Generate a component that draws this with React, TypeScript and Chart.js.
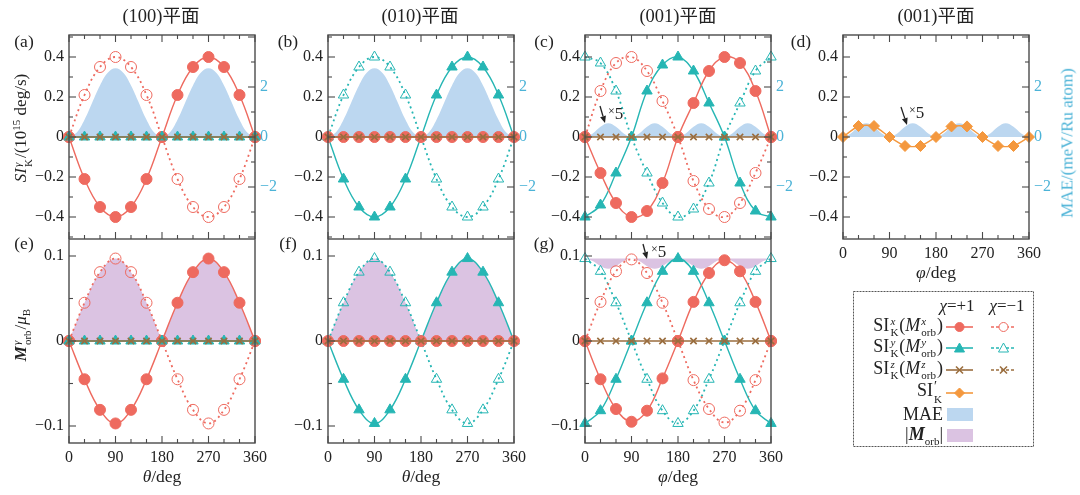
import React, { useEffect, useRef } from 'react';
import { Chart, registerables } from 'chart.js';

Chart.register(...registerables);

// angle grids (deg)
const angles = [0, 30, 60, 90, 120, 150, 180, 210, 240, 270, 300, 330, 360];
const anglesFine = [0, 15, 30, 45, 60, 75, 90, 105, 120, 135, 150, 165, 180, 195, 210, 225, 240, 255, 270, 285, 300, 315, 330, 345, 360];
const anglesFirstHalf = [0, 30, 60, 90, 120, 150, 180];
const anglesSecondHalf = [180, 210, 240, 270, 300, 330, 360];
const angleTicks = [0, 90, 180, 270, 360];

// axis ticks
const siTicks = [-0.4, -0.2, 0, 0.2, 0.4];
const siMinor = [-0.5, -0.4, -0.3, -0.2, -0.1, 0, 0.1, 0.2, 0.3, 0.4, 0.5];
const maeTicks = [-2, 0, 2];
const maeMinor = [-4, -3, -2, -1, 0, 1, 2, 3, 4];
const mTicks = [-0.1, 0, 0.1];
const mMinor = [-0.1, -0.05, 0, 0.05, 0.1];

// (a), (b): SI_K (10^15 deg/s)
const siPlusAB = [0, -0.21, -0.35, -0.4, -0.35, -0.21, 0, 0.21, 0.35, 0.4, 0.35, 0.21, 0];
const siMinusAB = [0, 0.21, 0.35, 0.4, 0.35, 0.21, 0, -0.21, -0.35, -0.4, -0.35, -0.21, 0];
const zeroSeries = [0, 0, 0, 0, 0, 0, 0, 0, 0, 0, 0, 0, 0];
const maeAB = [0, 0.18, 0.69, 1.38, 2.06, 2.57, 2.75, 2.57, 2.06, 1.38, 0.69, 0.18, 0, 0.18, 0.69, 1.38, 2.06, 2.57, 2.75, 2.57, 2.06, 1.38, 0.69, 0.18, 0];

// (c)
const siXPlusC = [0, -0.18, -0.33, -0.4, -0.37, -0.23, 0, 0.17, 0.33, 0.4, 0.37, 0.23, 0];
const siXMinusC = [0, 0.23, 0.37, 0.4, 0.33, 0.18, 0, -0.22, -0.36, -0.4, -0.33, -0.18, 0];
const siYPlusC = [-0.4, -0.34, -0.18, 0, 0.23, 0.36, 0.4, 0.33, 0.17, 0, -0.23, -0.37, -0.4];
const siYMinusC = [0.4, 0.37, 0.23, 0, -0.18, -0.33, -0.4, -0.36, -0.23, 0, 0.17, 0.33, 0.4];
const maeCD = [0, 0.14, 0.41, 0.55, 0.41, 0.14, 0, 0.14, 0.41, 0.55, 0.41, 0.14, 0, 0.14, 0.41, 0.55, 0.41, 0.14, 0, 0.14, 0.41, 0.55, 0.41, 0.14, 0];

// (d)
const siPrimeD = [0, 0.055, 0.055, 0, -0.045, -0.045, 0, 0.053, 0.053, 0, -0.045, -0.045, 0];

// (e), (f): M_orb (mu_B)
const mPlusEF = [0, -0.045, -0.081, -0.097, -0.081, -0.045, 0, 0.045, 0.081, 0.097, 0.081, 0.045, 0];
const mMinusEF = [0, 0.045, 0.081, 0.097, 0.081, 0.045, 0, -0.045, -0.081, -0.097, -0.081, -0.045, 0];
const mAbsHalfEF = [0, 0.045, 0.081, 0.097, 0.081, 0.045, 0];

// (g)
const mXPlusG = [0, -0.045, -0.08, -0.095, -0.082, -0.044, 0, 0.046, 0.08, 0.095, 0.082, 0.046, 0];
const mXMinusG = [0, 0.046, 0.082, 0.096, 0.08, 0.045, 0, -0.046, -0.08, -0.096, -0.082, -0.046, 0];
const mYPlusG = [-0.097, -0.082, -0.045, 0, 0.045, 0.082, 0.097, 0.082, 0.045, 0, -0.045, -0.082, -0.097];
const mYMinusG = [0.097, 0.082, 0.045, 0, -0.045, -0.082, -0.097, -0.082, -0.045, 0, 0.045, 0.082, 0.097];
const mAbsG = [0.097, 0.094, 0.088, 0.085, 0.088, 0.094, 0.097, 0.094, 0.088, 0.085, 0.088, 0.094, 0.097, 0.094, 0.088, 0.085, 0.088, 0.094, 0.097, 0.094, 0.088, 0.085, 0.088, 0.094, 0.097];

const red = '#ee6a5f';
const cyan = '#26b6b4';
const brown = '#9a6d3e';
const orange = '#f4983e';
const maeBlue = '#bcd7f0';
const orbPurple = '#dbc3e2';
const axisBlue = '#4cb3d7';
const ink = '#222';
const serif = "'Liberation Serif', 'Noto Sans CJK SC', serif";

const colLeft = [69, 328, 585, 843];
const rowTop = [35, 239];
const PW = 186;
const PH = 204;
const ML = 60;
const MR = 36;

const pts = (xs: number[], ys: number[]) => xs.map((x, i) => ({ x, y: ys[i] }));

function markerLine(data: any[], color: string, shape: string, filled: boolean, order: number, tension = 0.4) {
  const isCross = shape === 'crossRot';
  return {
    data,
    borderColor: color,
    backgroundColor: filled ? color : 'rgba(255,255,255,0)',
    borderWidth: filled ? 1.4 : 1.8,
    borderDash: filled ? [] : [2, 3.5],
    pointStyle: shape,
    pointRadius: isCross ? 4.5 : shape === 'triangle' ? 6 : 5.5,
    pointBorderWidth: isCross ? 1.6 : 1,
    tension,
    fill: false,
    clip: false,
    order,
  };
}

function area(data: any[], color: string, fill: any = 'origin', yAxisID = 'y') {
  return {
    data,
    borderWidth: 0,
    borderColor: 'rgba(0,0,0,0)',
    backgroundColor: color,
    pointRadius: 0,
    fill,
    tension: 0.4,
    yAxisID,
    clip: false,
    order: 10,
  };
}

const fmt = (v: number) => (v < 0 ? '\u2212' + String(-v) : String(v));

const frameTicks = {
  id: 'frameTicks',
  afterDatasetsDraw(chart: any, _args: any, opts: any) {
    const { ctx, chartArea: a, scales } = chart;
    const seg = (x1: number, y1: number, x2: number, y2: number) => {
      ctx.beginPath();
      ctx.moveTo(x1, y1);
      ctx.lineTo(x2, y2);
      ctx.stroke();
    };
    ctx.save();
    ctx.strokeStyle = '#4a4a4a';
    ctx.lineWidth = 1.4;
    ctx.strokeRect(a.left, a.top, a.right - a.left, a.bottom - a.top);
    ctx.lineWidth = 1.1;
    angles.forEach((v) => {
      const px = scales.x.getPixelForValue(v);
      const len = v % 90 === 0 ? 7 : 4;
      seg(px, a.bottom, px, a.bottom - len);
      if (opts.top) seg(px, a.top, px, a.top + len);
    });
    opts.yMinor.forEach((v: number) => {
      const py = scales.y.getPixelForValue(v);
      const len = opts.yMajor.includes(v) ? 7 : 4;
      seg(a.left, py, a.left + len, py);
    });
    if (scales.y2) {
      maeMinor.forEach((v) => {
        const py = scales.y2.getPixelForValue(v);
        const len = v % 2 === 0 ? 7 : 4;
        seg(a.right, py, a.right - len, py);
      });
    }
    ctx.restore();
  },
};

interface PanelSpec {
  col: number;
  row: number;
  xLabels: boolean;
  yMax: number;
  yTicks: number[];
  yMinor: number[];
  y2: boolean;
  datasets: any[];
}

const tickFont = { family: serif, size: 16 };

function Panel({ spec }: { spec: PanelSpec }) {
  const canvasRef = useRef<HTMLCanvasElement>(null);
  const mt = spec.row === 0 ? 10 : 0;
  const mb = spec.xLabels ? 32 : 0;

  useEffect(() => {
    if (!canvasRef.current) return;
    const zeroPad = (s: any) => {
      s.paddingLeft = 0;
      s.paddingRight = 0;
      s.paddingTop = 0;
      s.paddingBottom = 0;
    };
    const noGrid = { display: false, drawTicks: false, tickLength: 0 };
    const scales: any = {
      x: {
        type: 'linear',
        min: 0,
        max: 360,
        grid: noGrid,
        border: { display: false },
        ticks: { display: spec.xLabels, font: tickFont, color: ink, padding: 5, maxRotation: 0, autoSkip: false },
        afterBuildTicks: (s: any) => { s.ticks = angleTicks.map((v) => ({ value: v })); },
        afterFit: (s: any) => { s.height = mb; zeroPad(s); },
      },
      y: {
        type: 'linear',
        position: 'left',
        min: -spec.yMax,
        max: spec.yMax,
        grid: noGrid,
        border: { display: false },
        ticks: { font: tickFont, color: ink, padding: 5, callback: (v: any) => fmt(Number(v)) },
        afterBuildTicks: (s: any) => { s.ticks = spec.yTicks.map((v) => ({ value: v })); },
        afterFit: (s: any) => { s.width = ML; zeroPad(s); },
      },
    };
    if (spec.y2) {
      scales.y2 = {
        type: 'linear',
        position: 'right',
        min: -4.08,
        max: 4.08,
        grid: noGrid,
        border: { display: false },
        ticks: { font: tickFont, color: axisBlue, padding: 5, callback: (v: any) => fmt(Number(v)) },
        afterBuildTicks: (s: any) => { s.ticks = maeTicks.map((v) => ({ value: v })); },
        afterFit: (s: any) => { s.width = MR; zeroPad(s); },
      };
    }
    const chart = new Chart(canvasRef.current, {
      type: 'line',
      data: { datasets: spec.datasets },
      options: {
        responsive: true,
        maintainAspectRatio: false,
        animation: false,
        events: [],
        layout: { autoPadding: false, padding: { top: mt, right: spec.y2 ? 0 : MR, left: 0, bottom: 0 } },
        plugins: {
          legend: { display: false },
          tooltip: { enabled: false },
          frameTicks: { top: spec.row === 0, yMinor: spec.yMinor, yMajor: spec.yTicks },
        } as any,
        scales,
      },
      plugins: [frameTicks],
    });
    return () => chart.destroy();
  }, [spec]);

  return (
    <div
      style={{
        position: 'absolute',
        left: colLeft[spec.col] - ML,
        top: rowTop[spec.row] - mt,
        width: ML + PW + MR,
        height: mt + PH + mb,
      }}
    >
      <canvas ref={canvasRef} />
    </div>
  );
}

const topBase = { row: 0, yMax: 0.51, yTicks: siTicks, yMinor: siMinor, y2: true };
const botBase = { row: 1, xLabels: true, yMax: 0.12, yTicks: mTicks, yMinor: mMinor, y2: false };

const specs: PanelSpec[] = [
  {
    ...topBase, col: 0, xLabels: false,
    datasets: [
      markerLine(pts(angles, zeroSeries), brown, 'crossRot', true, 0),
      markerLine(pts(angles, zeroSeries), cyan, 'triangle', true, 1),
      markerLine(pts(angles, siPlusAB), red, 'circle', true, 2),
      markerLine(pts(angles, siMinusAB), red, 'circle', false, 3),
      area(pts(anglesFine, maeAB), maeBlue, 'origin', 'y2'),
    ],
  },
  {
    ...topBase, col: 1, xLabels: false,
    datasets: [
      markerLine(pts(angles, zeroSeries), brown, 'crossRot', true, 0),
      markerLine(pts(angles, zeroSeries), red, 'circle', true, 1),
      markerLine(pts(angles, siPlusAB), cyan, 'triangle', true, 2),
      markerLine(pts(angles, siMinusAB), cyan, 'triangle', false, 3),
      area(pts(anglesFine, maeAB), maeBlue, 'origin', 'y2'),
    ],
  },
  {
    ...topBase, col: 2, xLabels: false,
    datasets: [
      markerLine(pts(angles, zeroSeries), brown, 'crossRot', true, 0),
      markerLine(pts(angles, siXPlusC), red, 'circle', true, 2),
      markerLine(pts(angles, siYPlusC), cyan, 'triangle', true, 2),
      markerLine(pts(angles, siXMinusC), red, 'circle', false, 3),
      markerLine(pts(angles, siYMinusC), cyan, 'triangle', false, 3),
      area(pts(anglesFine, maeCD), maeBlue, 'origin', 'y2'),
    ],
  },
  {
    ...topBase, col: 3, xLabels: true,
    datasets: [
      markerLine(pts(angles, siPrimeD), orange, 'rectRot', true, 1, 0.2),
      area(pts(anglesFine, maeCD), maeBlue, 'origin', 'y2'),
    ],
  },
  {
    ...botBase, col: 0,
    datasets: [
      markerLine(pts(angles, zeroSeries), brown, 'crossRot', true, 0),
      markerLine(pts(angles, zeroSeries), cyan, 'triangle', true, 1),
      markerLine(pts(angles, mPlusEF), red, 'circle', true, 2),
      markerLine(pts(angles, mMinusEF), red, 'circle', false, 3),
      area(pts(anglesFirstHalf, mAbsHalfEF), orbPurple),
      area(pts(anglesSecondHalf, mAbsHalfEF), orbPurple),
    ],
  },
  {
    ...botBase, col: 1,
    datasets: [
      markerLine(pts(angles, zeroSeries), brown, 'crossRot', true, 0),
      markerLine(pts(angles, zeroSeries), red, 'circle', true, 1),
      markerLine(pts(angles, mPlusEF), cyan, 'triangle', true, 2),
      markerLine(pts(angles, mMinusEF), cyan, 'triangle', false, 3),
      area(pts(anglesFirstHalf, mAbsHalfEF), orbPurple),
      area(pts(anglesSecondHalf, mAbsHalfEF), orbPurple),
    ],
  },
  {
    ...botBase, col: 2,
    datasets: [
      markerLine(pts(angles, zeroSeries), brown, 'crossRot', true, 0),
      markerLine(pts(angles, mXPlusG), red, 'circle', true, 2),
      markerLine(pts(angles, mYPlusG), cyan, 'triangle', true, 2),
      markerLine(pts(angles, mXMinusG), red, 'circle', false, 3),
      markerLine(pts(angles, mYMinusG), cyan, 'triangle', false, 3),
      area(pts(anglesFine, mAbsG), orbPurple, { value: 0.097 }),
    ],
  },
];

const Stack = ({ sup, sub, size = 11 }: { sup: React.ReactNode; sub: React.ReactNode; size?: number }) => (
  <span
    style={{
      display: 'inline-flex',
      flexDirection: 'column',
      verticalAlign: 'middle',
      lineHeight: 1,
      fontSize: size,
      margin: '0 1px',
    }}
  >
    <span>{sup}</span>
    <span>{sub}</span>
  </span>
);

const Txt = ({ x, y, children, size = 16, color = ink, rotate = false, align = 'center' }: any) => (
  <div
    style={{
      position: 'absolute',
      left: x,
      top: y,
      transform: `translate(${align === 'right' ? '-100%' : align === 'left' ? '0' : '-50%'}, -50%)${rotate ? ' rotate(-90deg)' : ''}`,
      fontSize: size,
      color,
      whiteSpace: 'nowrap',
      lineHeight: 1,
      fontFamily: serif,
    }}
  >
    {children}
  </div>
);

function Arrow({ x1, y1, x2, y2 }: { x1: number; y1: number; x2: number; y2: number }) {
  const dx = x2 - x1;
  const dy = y2 - y1;
  const l = Math.hypot(dx, dy);
  const ux = dx / l;
  const uy = dy / l;
  const bx = x2 - 7 * ux;
  const by = y2 - 7 * uy;
  const head = `${x2},${y2} ${bx - 3 * uy},${by + 3 * ux} ${bx + 3 * uy},${by - 3 * ux}`;
  return (
    <g>
      <line x1={x1} y1={y1} x2={bx} y2={by} stroke={ink} strokeWidth={1.3} />
      <polygon points={head} fill={ink} />
    </g>
  );
}

const Times5 = () => (
  <span>
    <span style={{ fontSize: 12, position: 'relative', top: -4 }}>×</span>5
  </span>
);

const legendRows = [
  { y: 327, color: red, shape: 'circle', sup: <i>x</i> },
  { y: 348, color: cyan, shape: 'triangle', sup: <i>y</i> },
  { y: 370, color: brown, shape: 'cross', sup: <i>z</i> },
];

function LegendMarker({ cx, cy, color, shape, filled }: any) {
  const fill = filled ? color : 'white';
  if (shape === 'circle') return <circle cx={cx} cy={cy} r={4.5} fill={fill} stroke={color} strokeWidth={1} />;
  if (shape === 'triangle')
    return <polygon points={`${cx},${cy - 5} ${cx - 5},${cy + 4} ${cx + 5},${cy + 4}`} fill={fill} stroke={color} strokeWidth={1} />;
  if (shape === 'diamond')
    return <polygon points={`${cx},${cy - 5} ${cx + 5},${cy} ${cx},${cy + 5} ${cx - 5},${cy}`} fill={fill} stroke={color} strokeWidth={1} />;
  return (
    <g stroke={color} strokeWidth={1.6}>
      <line x1={cx - 3.5} y1={cy - 3.5} x2={cx + 3.5} y2={cy + 3.5} />
      <line x1={cx - 3.5} y1={cy + 3.5} x2={cx + 3.5} y2={cy - 3.5} />
    </g>
  );
}

export default function App() {
  return (
    <div style={{ position: 'absolute', left: 0, top: 0, width: 1080, height: 495, background: '#fff', fontFamily: serif, overflow: 'hidden' }}>
      {specs.map((s, i) => (
        <Panel key={i} spec={s} />
      ))}

      {/* titles */}
      <Txt x={161} y={16} size={18.5}>(100)平面</Txt>
      <Txt x={420} y={16} size={18.5}>(010)平面</Txt>
      <Txt x={678} y={16} size={18.5}>(001)平面</Txt>
      <Txt x={936} y={16} size={18.5}>(001)平面</Txt>

      {/* panel letters */}
      <Txt x={24} y={42} size={17.5}>(a)</Txt>
      <Txt x={288} y={42} size={17.5}>(b)</Txt>
      <Txt x={544} y={42} size={17.5}>(c)</Txt>
      <Txt x={801} y={42} size={17.5}>(d)</Txt>
      <Txt x={24} y={244} size={17.5}>(e)</Txt>
      <Txt x={288} y={244} size={17.5}>(f)</Txt>
      <Txt x={544} y={244} size={17.5}>(g)</Txt>

      {/* axis titles */}
      <Txt x={22} y={128} size={17} rotate>
        <i>SI</i>
        <Stack sup={<i>γ</i>} sub="K" />/(10<sup style={{ fontSize: 11 }}>15</sup> deg/s)
      </Txt>
      <Txt x={22} y={335} size={17} rotate>
        <b><i>M</i></b>
        <Stack sup={<i>γ</i>} sub="orb" />/<i>μ</i>
        <sub style={{ fontSize: 11 }}>B</sub>
      </Txt>
      <Txt x={1067} y={143} size={17} rotate color={axisBlue}>MAE/(meV/Ru atom)</Txt>
      <Txt x={162} y={477} size={17.5}><i>θ</i>/deg</Txt>
      <Txt x={421} y={477} size={17.5}><i>θ</i>/deg</Txt>
      <Txt x={678} y={477} size={17.5}><i>φ</i>/deg</Txt>
      <Txt x={936} y={273} size={17.5}><i>φ</i>/deg</Txt>

      {/* ×5 notes */}
      <Txt x={608} y={113} size={17} align="left"><Times5 /></Txt>
      <Txt x={909} y={112} size={17} align="left"><Times5 /></Txt>
      <Txt x={651} y={251} size={17} align="left"><Times5 /></Txt>

      <svg width={1080} height={495} style={{ position: 'absolute', left: 0, top: 0, pointerEvents: 'none' }}>
        <Arrow x1={600} y1={106} x2={605} y2={123} />
        <Arrow x1={901} y1={107} x2={907} y2={125} />
        <Arrow x1={643} y1={244} x2={647} y2={259} />

        {/* legend frame */}
        <rect x={853.5} y={291.5} width={180} height={155} fill="none" stroke="#555" strokeWidth={1} strokeDasharray="2 1" />
        {legendRows.map((r) => (
          <g key={r.y}>
            <line x1={946} y1={r.y} x2={973} y2={r.y} stroke={r.color} strokeWidth={1.6} />
            <LegendMarker cx={959.5} cy={r.y} color={r.color} shape={r.shape} filled />
            <line x1={991} y1={r.y} x2={1016} y2={r.y} stroke={r.color} strokeWidth={1.4} strokeDasharray="3 2" />
            <LegendMarker cx={1003.5} cy={r.y} color={r.color} shape={r.shape} filled={r.shape === 'cross'} />
          </g>
        ))}
        <line x1={946} y1={393} x2={973} y2={393} stroke={orange} strokeWidth={1.6} />
        <LegendMarker cx={959.5} cy={393} color={orange} shape="diamond" filled />
        <rect x={947} y={408} width={26} height={13} fill={maeBlue} />
        <rect x={947} y={429} width={26} height={13} fill={orbPurple} />
      </svg>

      {/* legend text */}
      <Txt x={957} y={305} size={17}><i>χ</i>=+1</Txt>
      <Txt x={1007} y={305} size={17}><i>χ</i>=−1</Txt>
      {legendRows.map((r) => (
        <Txt key={r.y} x={943} y={r.y} size={18} align="right">
          SI<Stack sup={r.sup} sub="K" />(<i>M</i>
          <Stack sup={r.sup} sub="orb" />)
        </Txt>
      ))}
      <Txt x={943} y={392} size={18} align="right">
        SI<Stack sup={<span style={{ fontSize: 14 }}>′</span>} sub="K" />
      </Txt>
      <Txt x={943} y={414} size={18} align="right">MAE</Txt>
      <Txt x={943} y={436} size={18} align="right">
        |<b><i>M</i></b>
        <sub style={{ fontSize: 11 }}>orb</sub>|
      </Txt>
    </div>
  );
}
